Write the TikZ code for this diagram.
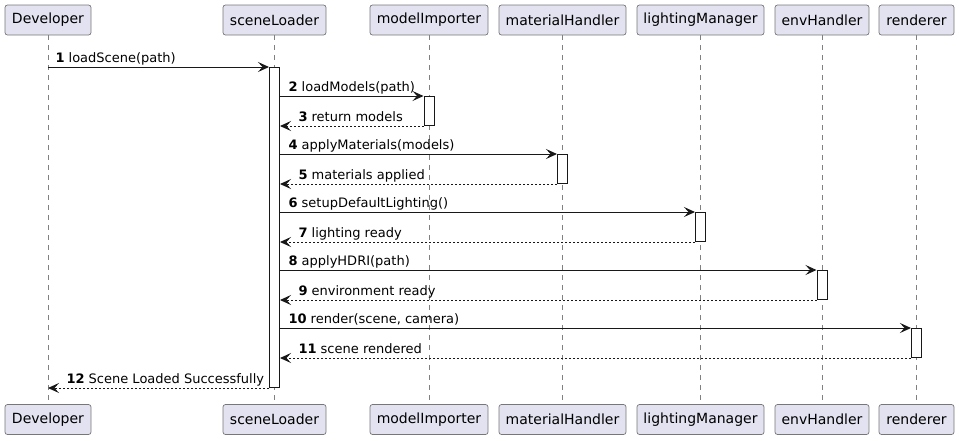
\documentclass[tikz,border=0pt]{standalone}
\usepackage{fontspec}
\setmainfont{DejaVu Sans}
\usetikzlibrary{arrows.meta}
\definecolor{partfill}{HTML}{E2E2F0}
\definecolor{partline}{HTML}{777777}
\definecolor{dark}{HTML}{181818}
\begin{document}
\begin{tikzpicture}[x=1pt, y=-1pt,
    part/.style={draw=partline, fill=partfill, rounded corners=2.5pt, minimum height=30pt, inner sep=0pt, line width=0.7pt, font=\fontsize{14}{16}\selectfont},
    life/.style={draw=dark!55, line width=0.7pt, dash pattern=on 5pt off 5pt},
    act/.style={draw=dark, fill=white, line width=1pt, minimum width=10pt, inner sep=0pt, anchor=north},
    msg/.style={draw=dark, line width=1pt, -{Stealth[length=11pt, width=10pt, inset=4.5pt]}},
    ret/.style={msg, dash pattern=on 2pt off 2pt},
    lbl/.style={anchor=base west, inner sep=0pt, yshift=4.5pt, font=\fontsize{13}{15}\selectfont}]
\useasboundingbox (0,0) rectangle (959,440);
\foreach \n/\t/\x/\w in {dev/Developer/48/86, sce/sceneLoader/274.5/103, mod/modelImporter/429/118, mat/materialHandler/562.5/127, lig/lightingManager/700.5/127, env/envHandler/822/94, ren/renderer/916.5/75} {
    \node[part, minimum width=\w] (\n) at (\x,20) {\t};
    \node[part, minimum width=\w] (\n2) at (\x,419.5) {\t};
    \draw[life] (\n) -- (\n2);
}
\node[act, minimum height=320] (aS) at (sce |- 0,67) {};
\foreach \a/\p/\y in {aM/mod/96, aMat/mat/154, aL/lig/212, aE/env/270, aR/ren/328} {
    \node[act, minimum height=29] (\a) at (\p |- 0,\y) {};
}
\draw[msg] (dev |- aS.north) -- node[lbl, pos=0, xshift=7pt] {\textbf{1} loadScene(path)} (aS.north west);
\foreach \a/\i/\j/\call/\reply in {aM/2/3/{loadModels(path)}/{return models}, aMat/4/5/{applyMaterials(models)}/{materials applied}, aL/6/7/{setupDefaultLighting()}/{lighting ready}, aE/8/9/{applyHDRI(path)}/{environment ready}, aR/10/11/{render(scene, camera)}/{scene rendered}} {
    \draw[msg] (aS.east |- \a.north) -- node[lbl, pos=0, xshift=8pt] {\textbf{\i} \call} (\a.north west);
    \draw[ret] (\a.south west) -- node[lbl, pos=1, xshift=18pt] {\textbf{\j} \reply} (aS.east |- \a.south);
}
\draw[ret] (aS.south west) -- node[lbl, pos=1, xshift=18pt] {\textbf{12} Scene Loaded Successfully} (dev |- aS.south);
\end{tikzpicture}
\end{document}
